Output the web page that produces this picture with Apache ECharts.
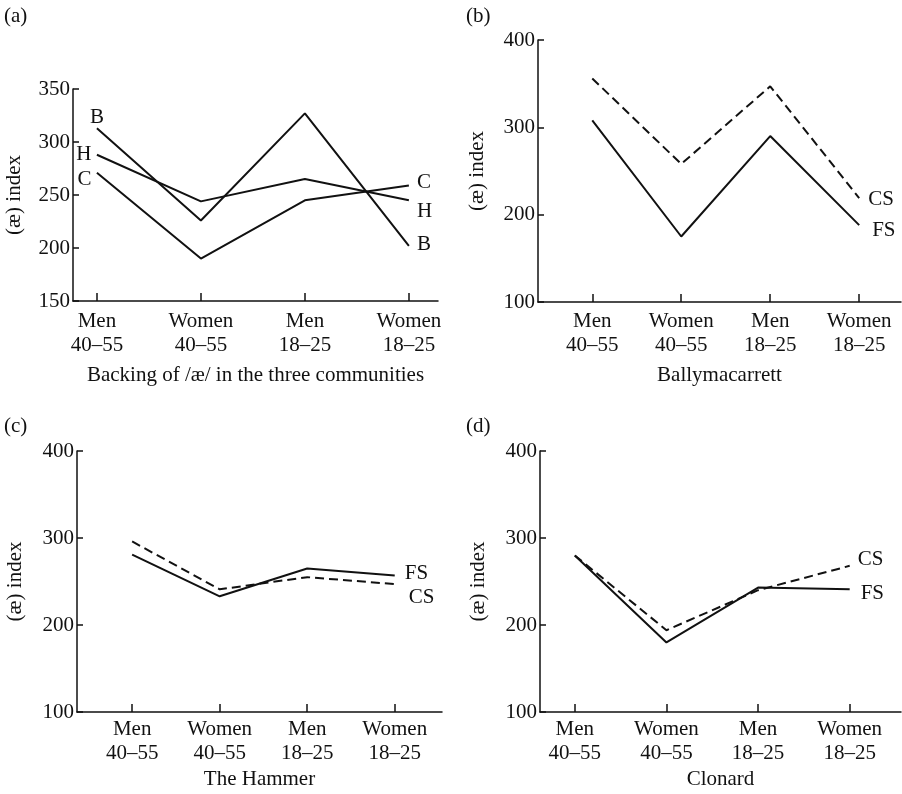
<!DOCTYPE html>
<html><head><meta charset="utf-8">
<script src="https://cdn.jsdelivr.net/npm/echarts@6/dist/echarts.min.js"></script>
<style>html,body{margin:0;padding:0;background:#fff}#c{width:902px;height:794px}</style>
</head><body><div id="c"></div>
<script>
const categories = ['Men\n40–55', 'Women\n40–55', 'Men\n18–25', 'Women\n18–25'];
const catIndex = [0, 1, 2, 3];
// (a) Backing of /æ/ in the three communities
const aB = [313, 226, 327, 202];
const aH = [288, 244, 265, 245];
const aC = [271, 190, 245, 259];
// (b) Ballymacarrett
const bCS = [356, 258, 347, 219];
const bFS = [308, 175, 290, 188];
// (c) The Hammer
const cFS = [281, 233, 265, 257];
const cCS = [296, 241, 255, 247];
// (d) Clonard
const dFS = [280, 180, 243, 241];
const dCS = [280, 194, 240, 268];
const yTicksA = [150, 200, 250, 300, 350];
const yTicksB = [100, 200, 300, 400];
const panelTitles = ['(a)', '(b)', '(c)', '(d)'];
const xNames = ['Backing of /æ/ in the three communities', 'Ballymacarrett', 'The Hammer', 'Clonard'];
const yName = '(æ) index';

const FONT = "'Liberation Serif', 'Times New Roman', serif";
const FS_ = 21;
const INK = '#111';

function pts(vals, firstLabel) {
  return vals.map((v, i) => {
    const d = { value: [catIndex[i], v] };
    if (i === 0 && firstLabel) {
      d.symbol = 'circle'; d.symbolSize = 1;
      d.itemStyle = { color: 'transparent' };
      d.label = Object.assign({ show: true, color: INK, fontFamily: FONT, fontSize: FS_ }, firstLabel);
    }
    return d;
  });
}
function line(name, idx, vals, dashed, endOff, endDist, firstLabel) {
  return {
    type: 'line', name: name, xAxisIndex: idx, yAxisIndex: idx,
    data: pts(vals, firstLabel), symbol: 'none', silent: true,
    lineStyle: { color: INK, width: 2, type: dashed ? [9, 5] : 'solid' },
    itemStyle: { color: INK },
    endLabel: { show: true, formatter: name, color: INK, fontFamily: FONT, fontSize: FS_,
      distance: endDist, offset: endOff },
    animation: false
  };
}
function xAxis(idx, min, max, nameGap, labelMargin) {
  return {
    type: 'value', gridIndex: idx, min: min, max: max,
    name: xNames[idx], nameLocation: 'middle', nameGap: nameGap,
    nameTextStyle: { fontFamily: FONT, fontSize: FS_, color: INK },
    axisLine: { show: true, onZero: false, lineStyle: { color: INK, width: 1.5 } },
    axisTick: { show: true, inside: true, length: 8, customValues: catIndex, lineStyle: { color: INK, width: 1.5 } },
    axisLabel: { show: true, customValues: catIndex, formatter: v => categories[Math.round(v)],
      fontFamily: FONT, fontSize: FS_, color: INK, lineHeight: 24, margin: labelMargin },
    splitLine: { show: false }
  };
}
function yAxis(idx, ticks, nameGap) {
  return {
    type: 'value', gridIndex: idx, min: ticks[0], max: ticks[ticks.length - 1], interval: ticks[1] - ticks[0],
    name: yName, nameLocation: 'middle', nameGap: nameGap, nameRotate: 90,
    nameTextStyle: { fontFamily: FONT, fontSize: FS_, color: INK },
    axisLine: { show: true, onZero: false, lineStyle: { color: INK, width: 1.5 } },
    axisTick: { show: true, inside: true, length: 6, lineStyle: { color: INK, width: 1.5 } },
    axisLabel: { fontFamily: FONT, fontSize: FS_, color: INK, margin: 3 },
    splitLine: { show: false }
  };
}

const option = {
  backgroundColor: '#fff',
  animation: false,
  title: [
    { text: panelTitles[0], left: 4, top: 6 },
    { text: panelTitles[1], left: 466, top: 6 },
    { text: panelTitles[2], left: 4, top: 416 },
    { text: panelTitles[3], left: 466, top: 416 }
  ].map(t => Object.assign(t, { padding: 0, textStyle: { fontFamily: FONT, fontSize: FS_, fontWeight: 'normal', color: INK } })),
  grid: [
    { left: 73, top: 89, width: 365, height: 212 },
    { left: 538, top: 40, width: 363, height: 262 },
    { left: 77, top: 451, width: 365, height: 261 },
    { left: 540, top: 451, width: 361, height: 261 }
  ],
  xAxis: [
    xAxis(0, -0.23, 3.28, 64, 8),
    xAxis(1, -0.61, 3.47, 63, 7),
    xAxis(2, -0.63, 3.54, 57, 5),
    xAxis(3, -0.38, 3.56, 57, 5)
  ],
  yAxis: [
    yAxis(0, yTicksA, 48),
    yAxis(1, yTicksB, 50),
    yAxis(2, yTicksB, 51),
    yAxis(3, yTicksB, 51)
  ],
  series: [
    line('B', 0, aB, false, [0, -1], 8, { formatter: 'B', position: 'top', distance: 0 }),
    line('H', 0, aH, false, [0, 11], 8, { formatter: 'H', position: 'left', distance: 5 }),
    line('C', 0, aC, false, [0, -3], 8, { formatter: 'C', position: 'left', distance: 5, offset: [0, 7] }),
    line('CS', 1, bCS, true, [0, 1], 9, null),
    line('FS', 1, bFS, false, [0, 5], 13, null),
    line('FS', 2, cFS, false, [0, -2], 10, null),
    line('CS', 2, cCS, true, [0, 13], 14, null),
    line('FS', 3, dFS, false, [0, 4], 11, null),
    line('CS', 3, dCS, true, [0, -6], 8, null)
  ]
};
const chart = echarts.init(document.getElementById('c'), null, { renderer: 'canvas' });
chart.setOption(option);
</script>
</body></html>
